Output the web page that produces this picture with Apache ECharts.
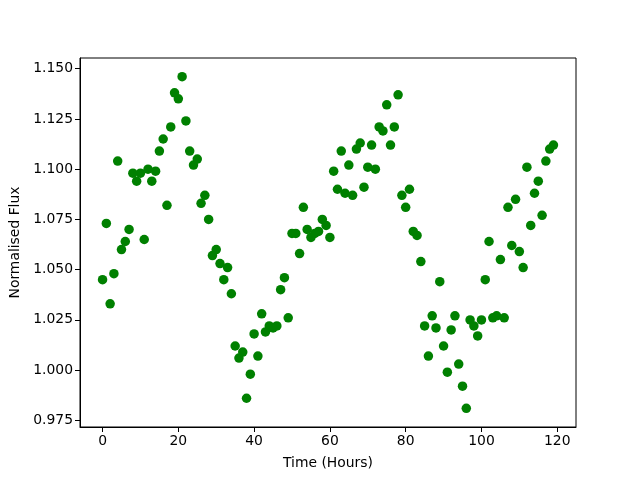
<!DOCTYPE html>
<html>
<head>
<meta charset="utf-8">
<script src="https://cdn.jsdelivr.net/npm/echarts@6/dist/echarts.min.js"></script>
<style>
html,body{margin:0;padding:0;background:#fff;}
#chart{width:640px;height:480px;}
</style>
</head>
<body>
<div id="chart"></div>
<script>
const hours = [];
for (let i = 0; i < 120; i++) hours.push(i);
const flux = [
  1.045, 1.073, 1.033, 1.048, 1.104, 1.060, 1.064, 1.070, 1.098, 1.094,
  1.098, 1.065, 1.100, 1.094, 1.099, 1.109, 1.115, 1.082, 1.121, 1.138,
  1.135, 1.146, 1.124, 1.109, 1.102, 1.105, 1.083, 1.087, 1.075, 1.057,
  1.060, 1.053, 1.045, 1.051, 1.038, 1.012, 1.006, 1.009, 0.986, 0.998,
  1.018, 1.007, 1.028, 1.019, 1.022, 1.021, 1.022, 1.040, 1.046, 1.026,
  1.068, 1.068, 1.058, 1.081, 1.070, 1.066, 1.068, 1.069, 1.075, 1.072,
  1.066, 1.099, 1.090, 1.109, 1.088, 1.102, 1.087, 1.110, 1.113, 1.091,
  1.101, 1.112, 1.100, 1.121, 1.119, 1.132, 1.112, 1.121, 1.137, 1.087,
  1.081, 1.090, 1.069, 1.067, 1.054, 1.022, 1.007, 1.027, 1.021, 1.044,
  1.012, 0.999, 1.020, 1.027, 1.003, 0.992, 0.981, 1.025, 1.022, 1.017,
  1.025, 1.045, 1.064, 1.026, 1.027, 1.055, 1.026, 1.081, 1.062, 1.085,
  1.059, 1.051, 1.101, 1.072, 1.088, 1.094, 1.077, 1.104, 1.110, 1.112
];
const xTicks = [0, 20, 40, 60, 80, 100, 120];
const yTicks = [0.975, 1.000, 1.025, 1.050, 1.075, 1.100, 1.125, 1.150];

const points = hours.map((h, i) => [h, flux[i]]);
const font = 'DejaVu Sans';
const chart = echarts.init(document.getElementById('chart'), null, {renderer: 'canvas'});
chart.setOption({
  animation: false,
  backgroundColor: '#ffffff',
  grid: {left: 80, right: 64, top: 58, bottom: 53, show: true, borderColor: '#000', borderWidth: 1, backgroundColor: 'transparent'},
  xAxis: {
    type: 'value', min: -5.95, max: 124.95,
    name: 'Time (Hours)', nameLocation: 'middle', nameGap: 29,
    nameTextStyle: {fontFamily: font, fontSize: 13.9, color: '#000'},
    axisLine: {show: true, onZero: false, lineStyle: {color: '#000', width: 1}},
    splitLine: {show: false},
    axisTick: {show: true, inside: false, length: 5, customValues: xTicks, lineStyle: {color: '#000', width: 1}},
    axisLabel: {customValues: xTicks, margin: 7, fontFamily: font, fontSize: 13.9, color: '#000', formatter: v => String(v)}
  },
  yAxis: {
    type: 'value', min: 0.9717, max: 1.1553,
    name: 'Normalised Flux', nameLocation: 'middle', nameGap: 56, nameRotate: 90,
    nameTextStyle: {fontFamily: font, fontSize: 13.9, color: '#000'},
    axisLine: {show: true, onZero: false, lineStyle: {color: '#000', width: 1}},
    splitLine: {show: false},
    axisTick: {show: true, inside: false, length: 5, customValues: yTicks, lineStyle: {color: '#000', width: 1}},
    axisLabel: {customValues: yTicks, margin: 7, fontFamily: font, fontSize: 13.9, color: '#000', formatter: v => v.toFixed(3)}
  },
  series: [{
    type: 'scatter',
    data: points,
    symbol: 'circle',
    symbolSize: 9.5,
    itemStyle: {color: '#008000', opacity: 1},
    clip: false
  }]
});
</script>
</body>
</html>
